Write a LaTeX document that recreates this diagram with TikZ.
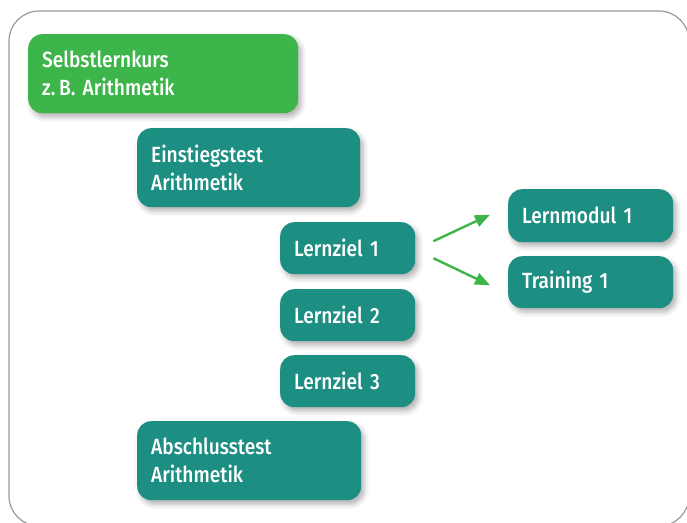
\documentclass[tikz,border=0pt]{standalone}
\usepackage{fontspec}
\setmainfont{Fira Sans}
\newfontfamily\boxfont{Fira Sans Medium}[FakeStretch=0.87]
\usepackage{xcolor}
\usetikzlibrary{arrows.meta,shadows.blur}

\definecolor{kursgreen}{HTML}{3DB54A}
\definecolor{boxteal}{HTML}{1C8E82}
\definecolor{framegray}{HTML}{9A9A9A}

\tikzset{
  stepbox/.style={anchor=north west, rounded corners=14pt, fill=boxteal,
    text=white, font=\boxfont\frenchspacing\fontsize{22}{28}\selectfont, align=left,
    inner xsep=14pt, inner ysep=0pt,
    blur shadow={shadow xshift=3pt, shadow yshift=-4pt, shadow blur radius=5pt, shadow opacity=30}},
  arrowline/.style={draw=kursgreen, line width=2.4pt,
    -{Triangle[length=15pt,width=12pt]}}
}

\begin{document}
\begin{tikzpicture}[x=1pt,y=-1pt]
  \useasboundingbox (0,0) rectangle (687,522);

  % Frame
  \draw[framegray, line width=1.2pt, rounded corners=30pt] (9,11) rectangle (689,526);

  % Course and tests
  \node[stepbox, fill=kursgreen, text width=242pt, minimum height=79pt] (kurs) at (28,34)
    {Selbstlernkurs\\z.\,B. Arithmetik};
  \node[stepbox, text width=195pt, minimum height=79pt] (einstieg) at (137,128)
    {Einstiegstest\\Arithmetik};
  \node[stepbox, text width=196pt, minimum height=79pt] (abschluss) at (137,421)
    {Abschlusstest\\Arithmetik};

  % Learning goals
  \node[stepbox, text width=107pt, minimum height=52pt] (ziel1) at (280,222) {Lernziel 1};
  \node[stepbox, text width=107pt, minimum height=52pt] (ziel2) at (280,289) {Lernziel 2};
  \node[stepbox, text width=107pt, minimum height=52pt] (ziel3) at (280,355) {Lernziel 3};

  % Modules
  \node[stepbox, text width=137pt, minimum height=53pt] (modul1) at (508,189) {Lernmodul 1};
  \node[stepbox, text width=137pt, minimum height=52pt] (training1) at (508,256) {Training 1};

  % Arrows
  \draw[arrowline] ([xshift=18pt,yshift=7pt]ziel1.east) -- ([xshift=-18pt,yshift=1pt]modul1.west);
  \draw[arrowline] ([xshift=18pt,yshift=-10pt]ziel1.east) -- ([xshift=-18pt,yshift=-3pt]training1.west);
\end{tikzpicture}
\end{document}
